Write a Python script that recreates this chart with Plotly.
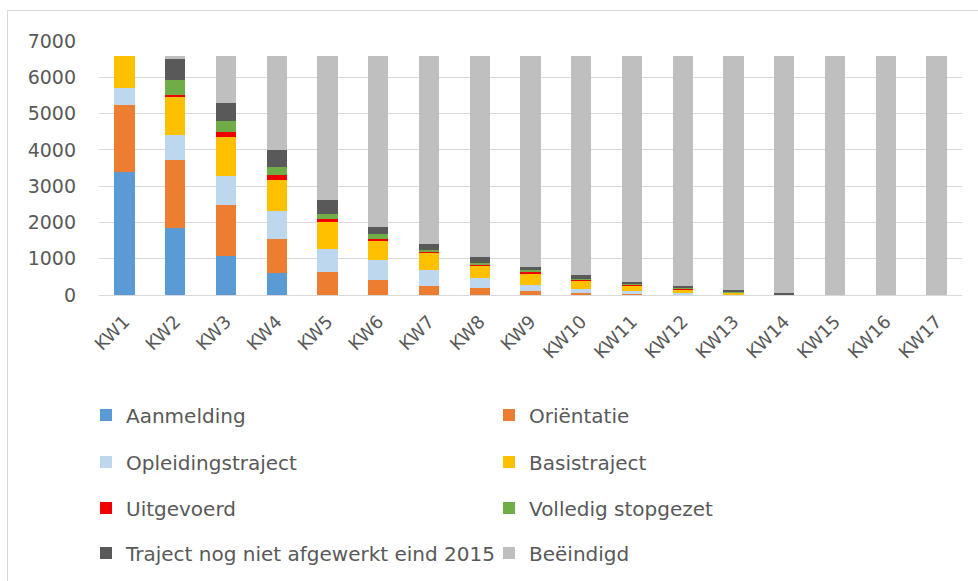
import plotly.graph_objects as go

weeks = [f"KW{i}" for i in range(1, 18)]

aanmelding = [3380, 1850, 1085, 605, 0, 0, 0, 0, 0, 0, 0, 0, 0, 0, 0, 0, 0]
orientatie = [1870, 1860, 1405, 945, 635, 420, 240, 190, 100, 55, 20, 10, 0, 0, 0, 0, 0]
opleidingstraject = [450, 700, 800, 755, 635, 535, 460, 280, 185, 110, 100, 40, 10, 0, 0, 0, 0]
basistraject = [900, 1065, 1065, 865, 730, 555, 460, 340, 305, 240, 155, 115, 70, 10, 0, 0, 0]
uitgevoerd = [0, 45, 130, 145, 105, 40, 15, 40, 40, 10, 5, 5, 0, 0, 0, 0, 0]
volledig_stopgezet = [0, 415, 320, 220, 125, 140, 75, 40, 70, 20, 15, 10, 5, 0, 0, 0, 0]
niet_afgewerkt = [0, 575, 485, 450, 395, 185, 165, 160, 80, 120, 75, 65, 65, 45, 0, 0, 0]
beeindigd = [0, 90, 1310, 2615, 3975, 4725, 5185, 5550, 5820, 6045, 6230, 6355, 6450, 6545, 6600, 6600, 6600]

y_ticks = [0, 1000, 2000, 3000, 4000, 5000, 6000, 7000]

series = [
    ("Aanmelding", aanmelding, "#5B9BD5"),
    ("Oriëntatie", orientatie, "#ED7D31"),
    ("Opleidingstraject", opleidingstraject, "#BDD7EE"),
    ("Basistraject", basistraject, "#FFC000"),
    ("Uitgevoerd", uitgevoerd, "#F00000"),
    ("Volledig stopgezet", volledig_stopgezet, "#70AD47"),
    ("Traject nog niet afgewerkt eind 2015", niet_afgewerkt, "#595959"),
    ("Beëindigd", beeindigd, "#BFBFBF"),
]

W, H = 978, 581
L, R, T, B = 99, 16, 41, 286
pw, ph = W - L - R, H - T - B

FONT = "DejaVu Sans"
GREY = "#595959"

fig = go.Figure()
legend_names = ["legend"] + [f"legend{i}" for i in range(2, 9)]
for (name, vals, col), lg in zip(series, legend_names):
    fig.add_trace(go.Bar(
        x=weeks, y=vals, name=name, legend=lg,
        marker=dict(color=col, line=dict(width=0)),
    ))

# legend grid: two columns, four rows
col_x = [86, 489]
row_y = [415, 462, 508, 553]
legends = {}
for i, lg in enumerate(legend_names):
    cx = col_x[i % 2]
    ry = row_y[i // 2]
    legends[lg] = dict(
        xref="container", yref="container",
        x=cx / W, y=1 - ry / H, xanchor="left", yanchor="middle",
        orientation="h", bgcolor="rgba(0,0,0,0)", borderwidth=0,
        font=dict(family=FONT, size=20, color=GREY),
        traceorder="normal",
    )

fig.update_layout(
    width=W, height=H, autosize=False,
    margin=dict(l=L, r=R, t=T, b=B, pad=0),
    barmode="stack", bargap=0.6,
    plot_bgcolor="white", paper_bgcolor="white",
    showlegend=True,
    **legends,
    xaxis=dict(
        tickangle=-45, tickfont=dict(family=FONT, size=18, color=GREY),
        showgrid=False, showline=True, linecolor="#D9D9D9", linewidth=1,
        ticks="", ticklabelstandoff=8,
    ),
    yaxis=dict(
        range=[0, 7000], tickvals=y_ticks,
        tickfont=dict(family=FONT, size=19, color=GREY),
        showgrid=True, gridcolor="#D9D9D9", gridwidth=1,
        zeroline=True, zerolinecolor="#D9D9D9", zerolinewidth=1,
        showline=False, ticks="", ticklabelstandoff=22,
    ),
)

# thin frame along the top and left of the chart area
def px_to_paper_x(px):
    return (px - L) / pw

def px_to_paper_y(py):
    return (H - B - py) / ph

frame = dict(type="line", xref="paper", yref="paper",
             line=dict(color="#D9D9D9", width=1), layer="below")
fig.add_shape(**frame, x0=px_to_paper_x(7), x1=px_to_paper_x(W + 5),
              y0=px_to_paper_y(10.5), y1=px_to_paper_y(10.5))
fig.add_shape(**frame, x0=px_to_paper_x(7.5), x1=px_to_paper_x(7.5),
              y0=px_to_paper_y(10.5), y1=px_to_paper_y(H + 5))

fig.write_html("out.html")
